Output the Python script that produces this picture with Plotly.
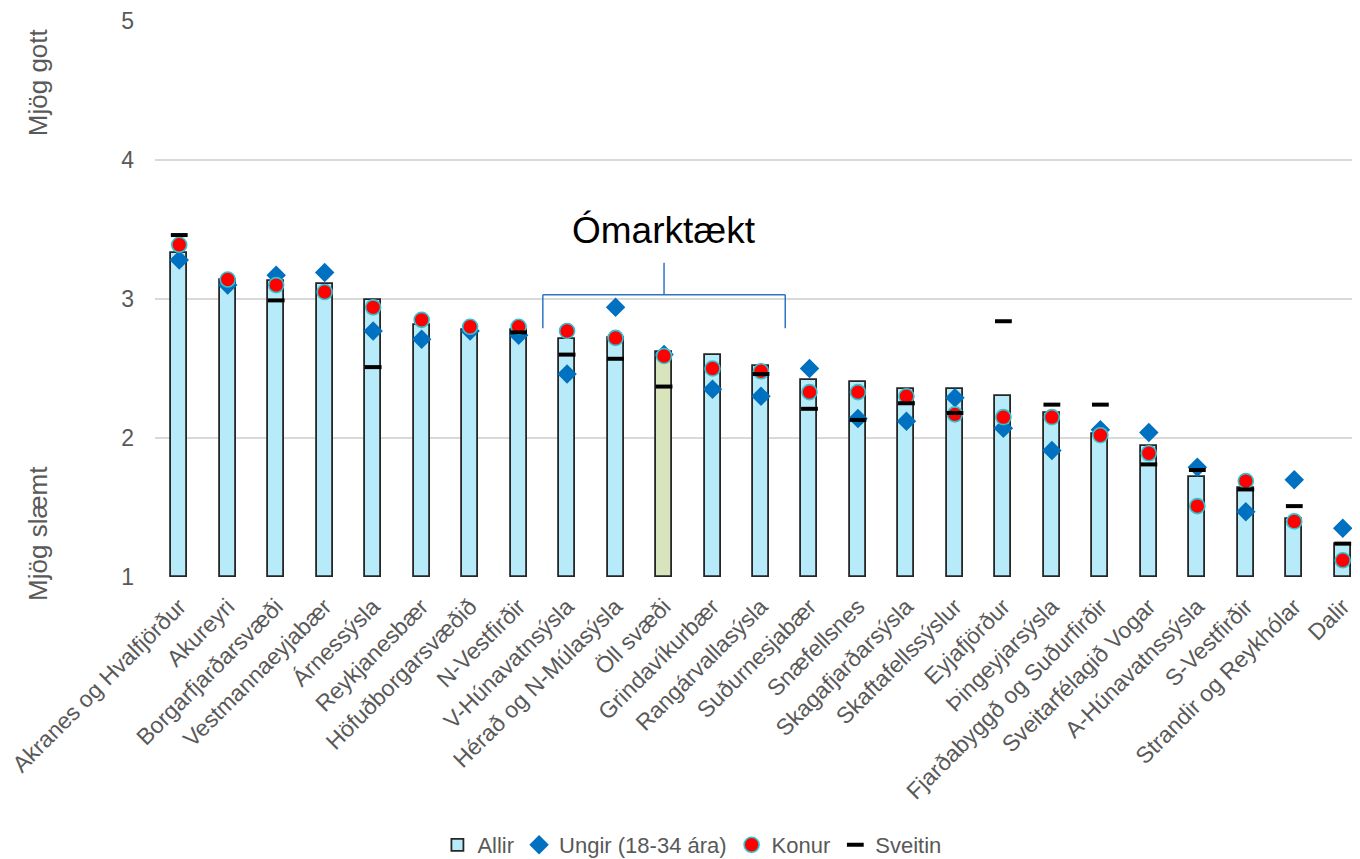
"""Meðaleinkunn eftir svæðum: Allir, Ungir, Konur og Sveitin."""

import plotly.graph_objects as go

svaedi = [
    "Akranes og Hvalfjörður", "Akureyri", "Borgarfjarðarsvæði", "Vestmannaeyjabær",
    "Árnessýsla", "Reykjanesbær", "Höfuðborgarsvæðið", "N-Vestfirðir",
    "V-Húnavatnsýsla", "Hérað og N-Múlasýsla", "Öll svæði", "Grindavíkurbær",
    "Rangárvallasýsla", "Suðurnesjabær", "Snæfellsnes", "Skagafjarðarsýsla",
    "Skaftafellssýslur", "Eyjafjörður", "Þingeyjarsýsla", "Fjarðabyggð og Suðurfirðir",
    "Sveitarfélagið Vogar", "A-Húnavatnssýsla", "S-Vestfirðir", "Strandir og Reykhólar",
    "Dalir",
]
allir = [3.33, 3.14, 3.13, 3.11, 2.99, 2.81, 2.78, 2.78, 2.71, 2.72, 2.62, 2.60,
         2.52, 2.42, 2.40, 2.35, 2.35, 2.30, 2.18, 2.03, 1.94, 1.72, 1.64, 1.42, 1.24]
ungir = [3.28, 3.10, 3.17, 3.19, 2.77, 2.71, 2.77, 2.74, 2.46, 2.94, 2.60, 2.35,
         2.30, 2.50, 2.14, 2.12, 2.29, 2.07, 1.91, 2.06, 2.04, 1.79, 1.47, 1.70, 1.35]
konur = [3.39, 3.14, 3.10, 3.05, 2.94, 2.85, 2.80, 2.80, 2.77, 2.72, 2.59, 2.50,
         2.48, 2.33, 2.33, 2.30, 2.17, 2.15, 2.15, 2.02, 1.89, 1.51, 1.69, 1.40, 1.12]
sveitin = [3.46, None, 2.99, None, 2.51, None, None, 2.76, 2.60, 2.57, 2.37, None,
           2.46, 2.21, 2.13, 2.25, 2.18, 2.84, 2.24, 2.24, 1.81, 1.77, 1.63, 1.51, 1.24]

GRAY = "#595959"
FONT = "Arial, Liberation Sans, sans-serif"

bar_colors = ["#D8E4BC" if s == "Öll svæði" else "#B7EBF9" for s in svaedi]
x = list(range(len(svaedi)))

fig = go.Figure()
fig.add_trace(go.Bar(
    x=x, y=[v - 1 for v in allir], base=1, name="Allir", width=0.33,
    marker=dict(color=bar_colors, line=dict(color="#262626", width=1.8)),
))
fig.add_trace(go.Scatter(
    x=x, y=ungir, mode="markers", name="Ungir (18-34 ára)",
    marker=dict(symbol="diamond", size=15, color="#0070C0"),
))
fig.add_trace(go.Scatter(
    x=x, y=konur, mode="markers", name="Konur",
    marker=dict(symbol="circle", size=15, color="#FF0000",
                line=dict(color="#2EC4D4", width=1.6)),
))
fig.add_trace(go.Scatter(
    x=x, y=sveitin, mode="markers", name="Sveitin",
    marker=dict(symbol="line-ew", size=12, line=dict(color="black", width=4)),
))

# hornklofi yfir ómarktæku svæðin
BLUE = "#2E75C6"
for x0, y0, x1, y1 in [(7.5, 3.03, 12.5, 3.03), (7.5, 3.03, 7.5, 2.79),
                       (12.5, 3.03, 12.5, 2.79), (10, 3.03, 10, 3.26)]:
    fig.add_shape(type="line", x0=x0, y0=y0, x1=x1, y1=y1,
                  line=dict(color=BLUE, width=1.5))
fig.add_annotation(x=10, y=3.49, text="Ómarktækt", showarrow=False,
                   font=dict(size=37, color="black", family=FONT))

for txt, yy in [("Mjög gott", 4.56), ("Mjög slæmt", 1.31)]:
    fig.add_annotation(x=-0.0965, xref="paper", xanchor="center", y=yy, yref="y",
                       text=txt, textangle=-90, showarrow=False,
                       font=dict(size=26, color=GRAY, family=FONT))

# síðan hefur 8px spássíu, því er plottsvæðið fært um 8px upp og til vinstri
fig.update_layout(
    width=1360, height=859,
    paper_bgcolor="white", plot_bgcolor="white",
    margin=dict(l=147, r=1, t=13, b=290),
    font=dict(family=FONT, color=GRAY),
    bargap=0,
    xaxis=dict(
        range=[-0.5, 24.5], tickmode="array", tickvals=x, ticktext=svaedi,
        tickangle=-45, tickfont=dict(size=23, color=GRAY),
        showgrid=False, zeroline=False, showline=False, automargin=False,
        ticks="outside", ticklen=6, tickcolor="white", ticklabeloverflow="allow",
    ),
    yaxis=dict(
        range=[1, 5], dtick=1, tickfont=dict(size=23, color=GRAY),
        showgrid=True, gridcolor="#D9D9D9", gridwidth=1.5,
        zeroline=False, showline=False, ticklabelstandoff=20, automargin=False,
    ),
    legend=dict(orientation="h", x=0.443, xanchor="center", y=-0.482,
                yanchor="middle", font=dict(size=22, color=GRAY),
                itemwidth=30),
    showlegend=True,
)

fig.write_html("out.html")
